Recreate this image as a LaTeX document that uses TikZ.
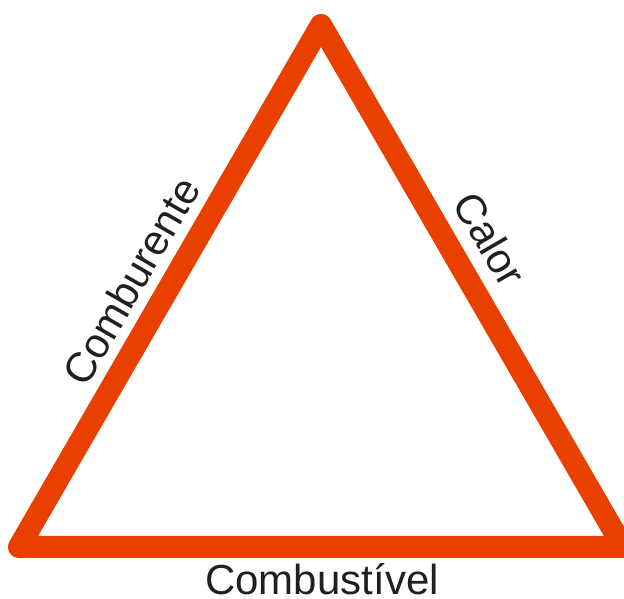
\documentclass[tikz,border=0pt]{standalone}
\usepackage{fontspec}
\setmainfont{Liberation Sans}
\definecolor{FireRed}{RGB}{233,64,0}
\definecolor{LabelInk}{RGB}{35,31,32}
\tikzset{
  side/.style={draw=FireRed,line width=22pt,line join=round},
  label/.style={text=LabelInk,inner sep=0pt,font=\fontsize{42}{48}\selectfont}
}
\begin{document}
\begin{tikzpicture}[x=1pt,y=1pt]
  \useasboundingbox (0,0) rectangle (624,599);
  \coordinate (top) at (321,574);
  \coordinate (left) at (19,52);
  \coordinate (right) at (623,52);

  \draw[side] (left) -- (top) -- (right) -- cycle;

  \node[label,rotate=60] (comburente) at (131,318) {Comburente};
  \node[label,rotate=-60] (calor) at (490,360) {Calor};
  \node[label] (combustivel) at (322,20) {Combustível};
\end{tikzpicture}
\end{document}
